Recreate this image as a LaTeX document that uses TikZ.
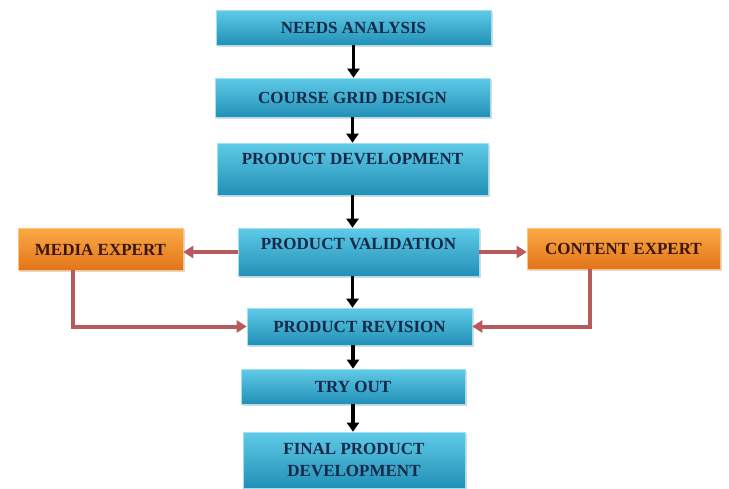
\documentclass[tikz,border=0pt]{standalone}
\usepackage{fontspec}
\setmainfont{Liberation Serif}
\usetikzlibrary{arrows.meta,shadows}
\definecolor{bluetop}{HTML}{5FCBE8}
\definecolor{bluebot}{HTML}{2290B6}
\definecolor{orgtop}{HTML}{FBAA45}
\definecolor{orgbot}{HTML}{E2741A}
\definecolor{navytext}{HTML}{14294A}
\definecolor{browntext}{HTML}{3B1608}
\definecolor{linkred}{HTML}{B65A5C}
\begin{document}
\begin{tikzpicture}[x=1pt,y=-1pt,
  box/.style={rectangle, inner sep=0pt, align=center,
    font=\bfseries\fontsize{17}{22}\selectfont,
    drop shadow={shadow xshift=2pt, shadow yshift=-2pt, opacity=0.3}},
  caps/.style={text height=12pt, text depth=#1},
  bluebox/.style={box, top color=bluetop, bottom color=bluebot,
    draw=bluetop!60!white, line width=0.6pt, text=navytext},
  orangebox/.style={box, top color=orgtop, bottom color=orgbot,
    draw=orgtop!70!white, line width=0.6pt, text=browntext},
  flow/.style={-{Triangle[width=12pt,length=9pt]}, line width=3.8pt, black},
  link/.style={-{Triangle[width=12pt,length=10pt]}, line width=4pt, linkred}]

\useasboundingbox (0,0) rectangle (729,488);

% main column
\node[bluebox, caps=0pt, minimum width=275pt, minimum height=35pt] (na) at (353.5,27.5) {NEEDS ANALYSIS};
\node[bluebox, caps=0pt, minimum width=275pt, minimum height=39pt] (cgd) at (352.5,97.5) {COURSE GRID DESIGN};
\node[bluebox, caps=22pt, minimum width=271pt, minimum height=52pt] (pd) at (352.5,169) {PRODUCT DEVELOPMENT};
\node[bluebox, caps=18pt, minimum width=241pt, minimum height=48pt] (pv) at (358.5,252) {PRODUCT VALIDATION};
\node[bluebox, caps=0pt, minimum width=225pt, minimum height=37pt] (pr) at (359.5,326.5) {PRODUCT REVISION};
\node[bluebox, caps=0pt, minimum width=224pt, minimum height=35pt] (to) at (353,386.5) {TRY OUT};
\node[bluebox, minimum width=222pt, minimum height=56pt] (fpd) at (354,460) {FINAL PRODUCT\\DEVELOPMENT};

% experts
\node[orangebox, caps=0pt, minimum width=165pt, minimum height=42pt] (me) at (100.5,249) {MEDIA EXPERT};
\node[orangebox, caps=0pt, minimum width=193pt, minimum height=41pt] (ce) at (623.5,248.5) {CONTENT EXPERT};

% flow arrows
\draw[flow] (na.south) -- (na.south |- cgd.north);
\draw[flow] (cgd.south) -- (cgd.south |- pd.north);
\draw[flow] (pd.south) -- (pd.south |- pv.north);
\draw[flow] (pd.south |- pv.south) -- (pd.south |- pr.north);
\draw[flow] (to.north |- pr.south) -- (to.north);
\draw[flow] (to.south) -- (to.south |- fpd.north);

% validation links
\draw[link] (pv.west) -- (pv.west -| me.east);
\draw[link] (pv.east) -- (pv.east -| ce.west);
\draw[link] ([xshift=-27.5pt]me.south) |- (pr.west);
\draw[link] ([xshift=-33.5pt]ce.south) |- (pr.east);
\end{tikzpicture}
\end{document}
